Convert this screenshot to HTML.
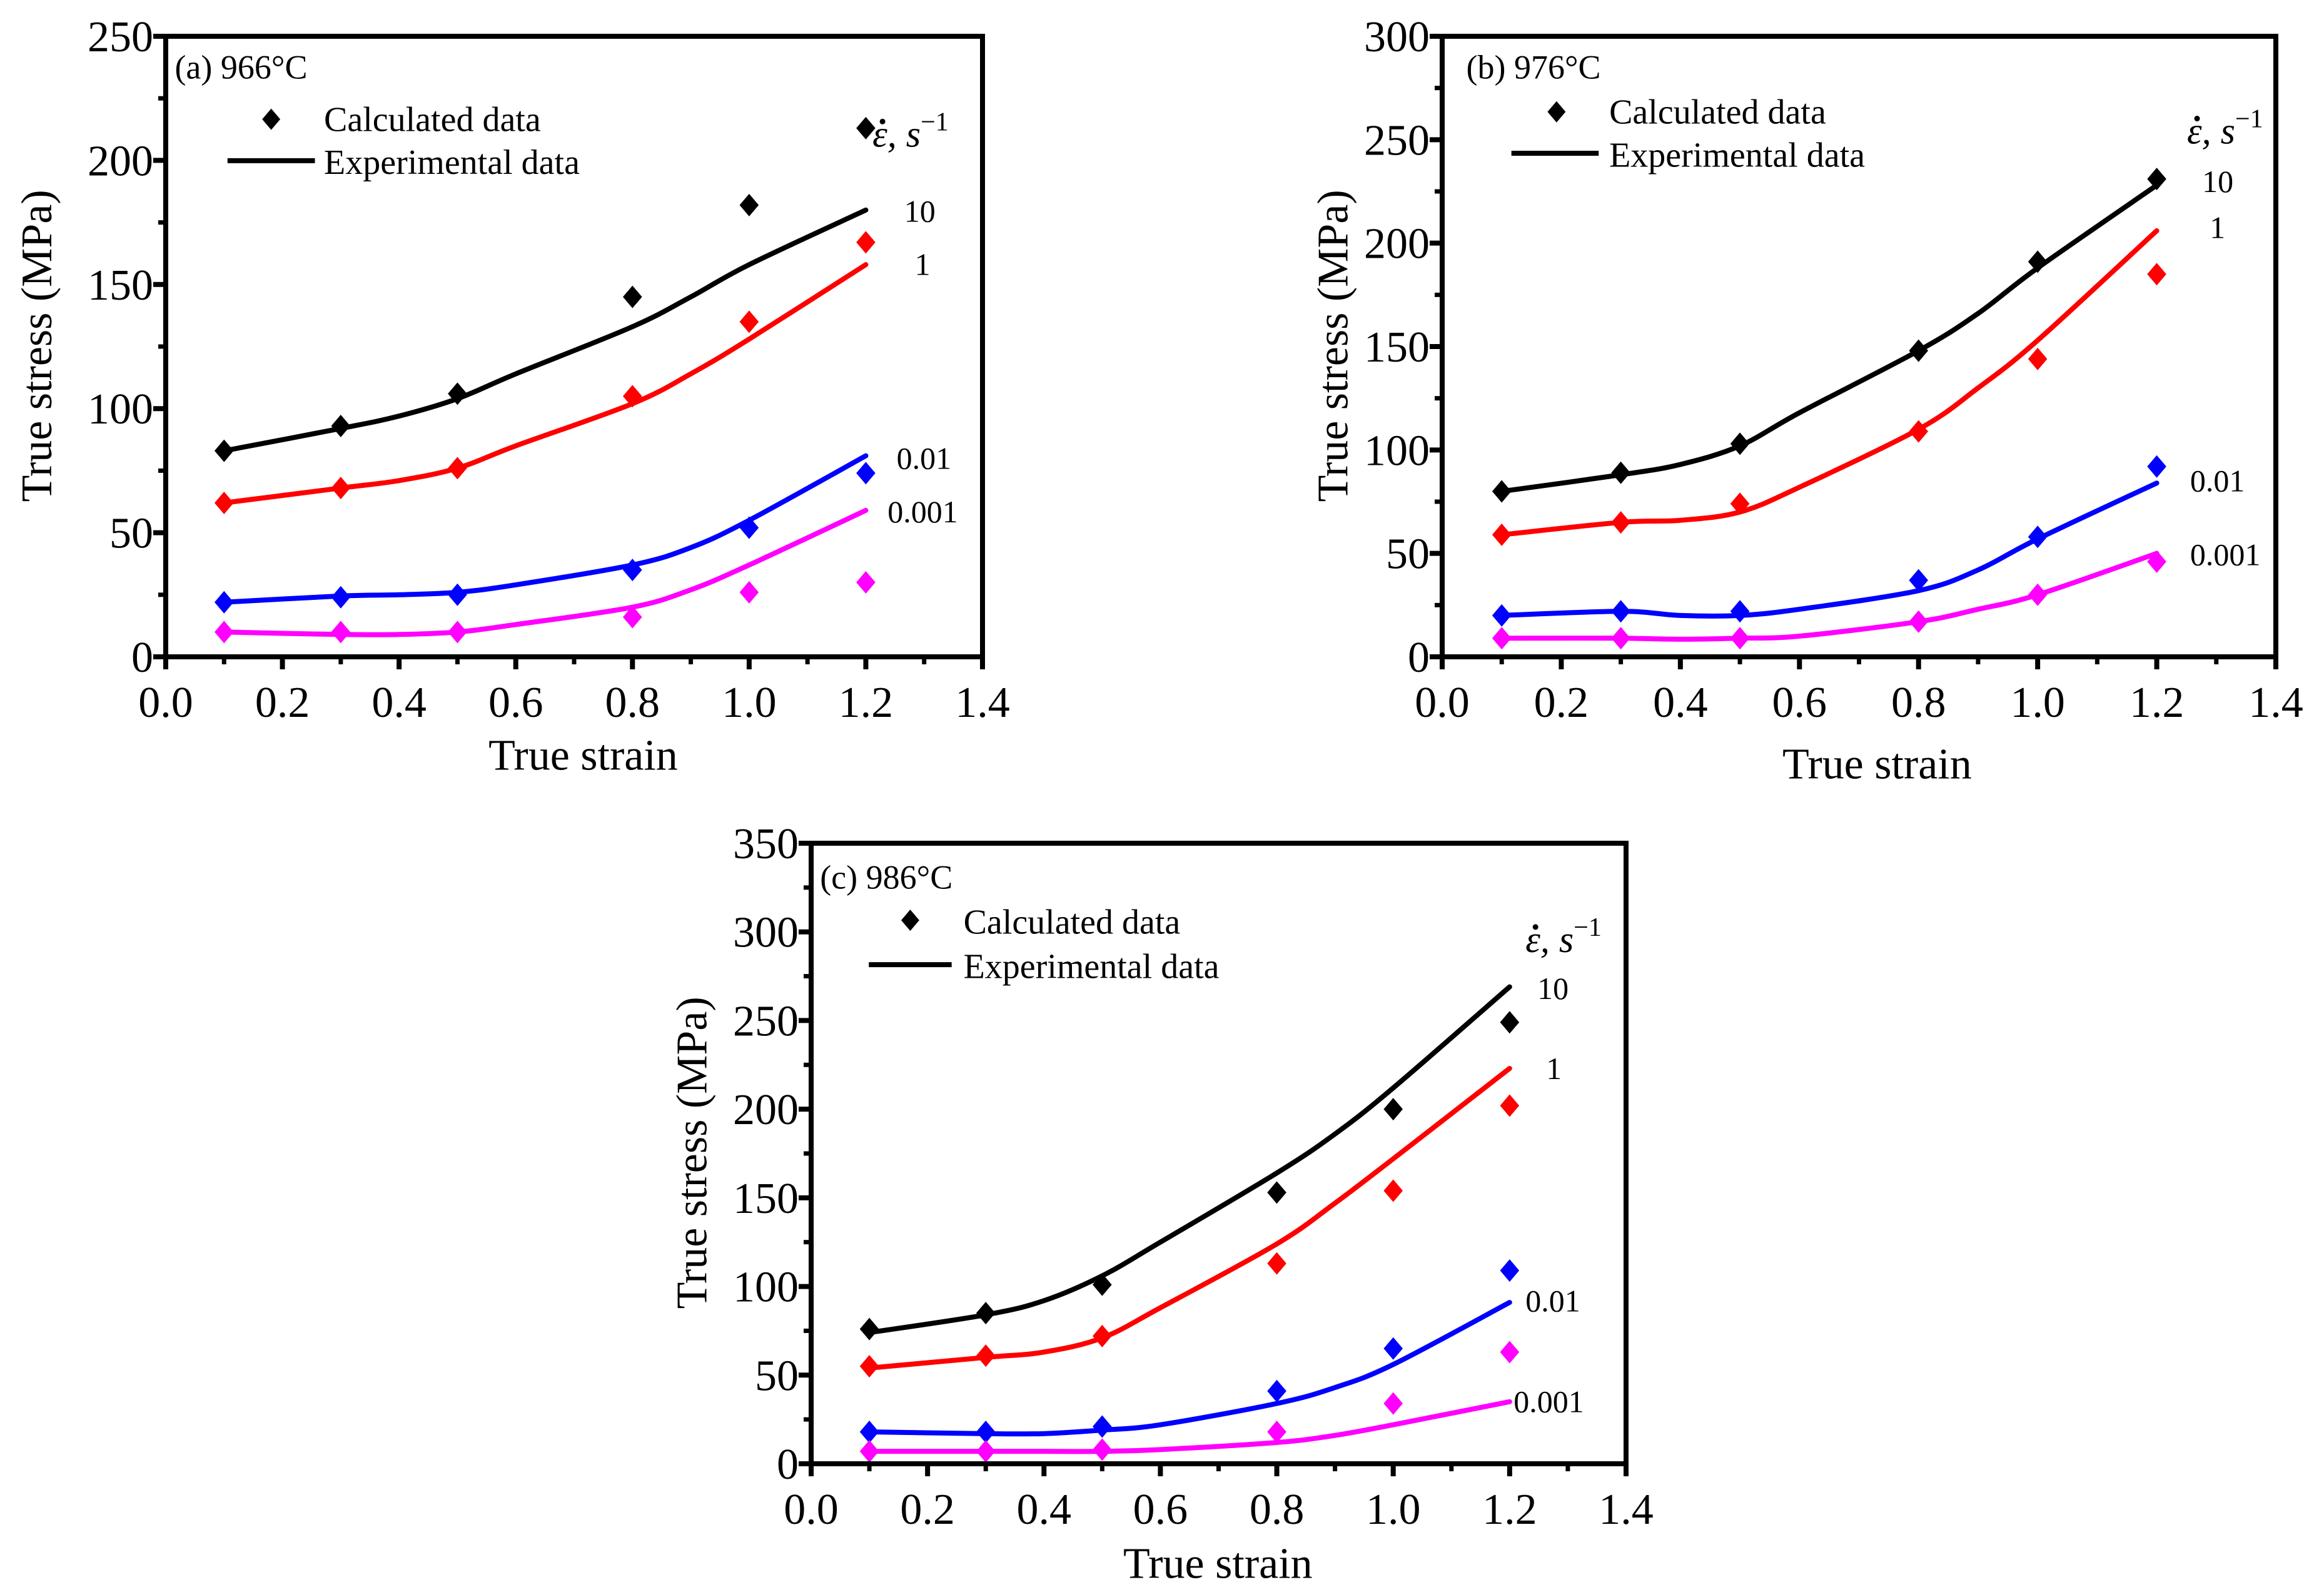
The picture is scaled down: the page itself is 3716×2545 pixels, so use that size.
<!DOCTYPE html>
<html><head><meta charset="utf-8"><style>
html,body{margin:0;padding:0;background:#fff;}
svg{display:block;font-family:"Liberation Serif","Times New Roman",serif;}
</style></head><body>
<svg id="fig" width="3716" height="2545" viewBox="0 0 3716 2545" xmlns="http://www.w3.org/2000/svg"></svg>
<script>
const strainCalc = [0.1, 0.3, 0.5, 0.8, 1.0, 1.2];
const strainExp = [0.1, 0.3, 0.4, 0.5, 0.6, 0.8, 0.9, 1.0, 1.2];
const rateNames = ["10", "1", "0.01", "0.001"];
const rateColors = ["#000000", "#ff0000", "#0000ff", "#ff00ff"];
const xTicks = [0.0, 0.2, 0.4, 0.6, 0.8, 1.0, 1.2, 1.4];
const xTickLabels = ["0.0", "0.2", "0.4", "0.6", "0.8", "1.0", "1.2", "1.4"];

const calcA = [[83,93,106,145,182,213],[62,68,76,105,135,167],[22,24,25,35,52,74],[10,10,10,16,26,30]];
const expA = [[83,92,97,104,114,133,145,158,180],[62,68,71,76,85,102,114,128,158],[22,24.5,25,26,29,37,44,55,81],[10,9,9,10,13,20,27,37,59]];
const calcB = [[80,89,103,148,191,231],[59,65,74,109,144,185],[20,22,22,37,58,92],[9,9,9,17,30,46]];
const expB = [[80,88,93,102,118,148,166,188,228],[59,65,66,70,82,110,130,153,206],[20,22,20,20,23,32,42,57,84],[9,9,8.5,9,10,17,23,30,50]];
const calcC = [[76,85,101,153,200,249],[55,61,72,113,154,202],[18,18,21,41,65,109],[7,7,8,18,34,63]];
const expC = [[74,84,92,106,125,164,186,212,269],[54,60,63,71,88,124,147,172,223],[18,17,17,19,22,34,43,56,91],[7,7,7,7,8,12,16,22,35]];
const yTicksA = [0,50,100,150,200,250];
const yTicksB = [0,50,100,150,200,250,300];
const yTicksC = [0,50,100,150,200,250,300,350];

const NS = "http://www.w3.org/2000/svg";
const svg = document.getElementById('fig');
function mk(tag, attrs, parent){const e=document.createElementNS(NS,tag);for(const k in attrs)e.setAttribute(k,attrs[k]);(parent||svg).appendChild(e);return e;}

const panels = [
 {id:'a', title:'(a) 966\u00B0C', box:[265,58,1571,1050], thumb:[111,24,653,443], ymax:250, yTicks:yTicksA, calc:calcA, exp:expA,
  label:[117,45], dia:[181,80], txt:[216], line:[152,210,108], lt:[80,109],
  rate:[[601,142],[608,178],[596,309],[590,345]], eps:[580,90], xt:[388,509], yt:[25,233]},
 {id:'b', title:'(b) 976\u00B0C', box:[2306,58,3639,1050], thumb:[966,24,1520,443], ymax:300, yTicks:yTicksB, calc:calcB, exp:expB,
  label:[982,45], dia:[1042,75], txt:[1077], line:[1012,1070,103], lt:[75,104],
  rate:[[1471,122],[1476,153],[1463,324],[1463,374]], eps:[1461,88], xt:[1255,515], yt:[893,233]},
 {id:'c', title:'(c) 986\u00B0C', box:[1297,1348,2600,2340], thumb:[547,568,1098,987], ymax:350, yTicks:yTicksC, calc:calcC, exp:expC,
  label:[553,591], dia:[614,620], txt:[650], line:[586,642,650], lt:[621,651],
  rate:[[1038,666],[1044,720],[1030,877],[1022,945]], eps:[1030,633], xt:[822,1054], yt:[466,777]}
];

function smoothPath(pts){
  let d = `M${pts[0][0]},${pts[0][1]}`;
  for(let i=0;i<pts.length-1;i++){
    const p0=pts[Math.max(0,i-1)], p1=pts[i], p2=pts[i+1], p3=pts[Math.min(pts.length-1,i+2)];
    const c1=[p1[0]+(p2[0]-p0[0])/6, p1[1]+(p2[1]-p0[1])/6];
    const c2=[p2[0]-(p3[0]-p1[0])/6, p2[1]-(p3[1]-p1[1])/6];
    d += ` C${c1[0]},${c1[1]} ${c2[0]},${c2[1]} ${p2[0]},${p2[1]}`;
  }
  return d;
}

panels.forEach(P=>{
  const [L,T,R,B]=P.box, [tl,tt,tr,tb]=P.thumb;
  const X = v => L + (v/1.4)*(R-L);
  const Y = v => B - (v/P.ymax)*(B-T);
  const TX = x => L + (x-tl)*(R-L)/(tr-tl);
  const TY = y => T + (y-tt)*(B-T)/(tb-tt);
  const g = mk('g',{});
  
  

  P.exp.forEach((s,i)=>{
    const pts = s.map((v,j)=>[X(strainExp[j]),Y(v)]);
    const p = mk('path',{d:smoothPath(pts),fill:'none',stroke:rateColors[i],'stroke-width':8,'stroke-linecap':'round','stroke-linejoin':'round'},g);
    
    
  });
  P.calc.forEach((s,i)=>{
    s.forEach((v,j)=>{
      const cx=X(strainCalc[j]), cy=Y(v), r=18;
      const d = mk('polygon',{points:`${cx},${cy-r} ${cx+r*0.85},${cy} ${cx},${cy+r} ${cx-r*0.85},${cy}`,fill:rateColors[i]},g);
      
      
    });
  });
  const box = mk('rect',{x:L,y:T,width:R-L,height:B-T,fill:'none',stroke:'#000','stroke-width':8},g);
  
  
  xTicks.forEach((v,k)=>{
    const x=X(v);
    mk('line',{x1:x,y1:B,x2:x,y2:B+20,stroke:'#000','stroke-width':8},g);
    const t = mk('text',{x:x,y:B+96,'font-size':70,'text-anchor':'middle'},g);
    t.textContent = xTickLabels[k];
    
    
    if(k<xTicks.length-1){ const xm=X(v+0.1); mk('line',{x1:xm,y1:B,x2:xm,y2:B+12,stroke:'#000','stroke-width':7},g); }
  });
  P.yTicks.forEach((v,k)=>{
    const y=Y(v);
    mk('line',{x1:L-20,y1:y,x2:L,y2:y,stroke:'#000','stroke-width':8},g);
    const t = mk('text',{x:L-20,y:y+24,'font-size':70,'text-anchor':'end'},g);
    t.textContent = String(v);
    
    
    if(k<P.yTicks.length-1){ const ym=Y(v+25); mk('line',{x1:L-12,y1:ym,x2:L,y2:ym,stroke:'#000','stroke-width':7},g); }
  });
  const xt = mk('text',{x:TX(P.xt[0]),y:TY(P.xt[1])+24,'font-size':70,'text-anchor':'middle'},g);
  xt.textContent='True strain';
  
  
  const yx=TX(P.yt[0])+24, yy=TY(P.yt[1]);
  const yt = mk('text',{x:yx,y:yy,'font-size':70,'text-anchor':'middle',transform:`rotate(-90 ${yx} ${yy})`},g);
  yt.textContent='True stress (MPa)';
  
  
  const pl = mk('text',{x:TX(P.label[0]),y:TY(P.label[1])+18,'font-size':54},g);
  pl.textContent=P.title;
  
  
  const dx=TX(P.dia[0]), dy=TY(P.dia[1]), r=17;
  const ld = mk('polygon',{points:`${dx},${dy-r} ${dx+r*0.85},${dy} ${dx},${dy+r} ${dx-r*0.85},${dy}`,fill:'#000'},g);
  
  
  const lt1 = mk('text',{x:TX(P.txt[0]),y:TY(P.lt[0])+19,'font-size':56},g);
  lt1.textContent='Calculated data';
  
  
  const ll = mk('line',{x1:TX(P.line[0]),y1:TY(P.line[2]),x2:TX(P.line[1]),y2:TY(P.line[2]),stroke:'#000','stroke-width':8},g);
  
  
  const lt2 = mk('text',{x:TX(P.txt[0]),y:TY(P.lt[1])+19,'font-size':56},g);
  lt2.textContent='Experimental data';
  
  
  P.rate.forEach((p,i)=>{
    const t = mk('text',{x:TX(p[0]),y:TY(p[1])+17,'font-size':50,'text-anchor':'start'},g);
    t.textContent=rateNames[i];
    
    
  });
  const ex=TX(P.eps[0]), ey=TY(P.eps[1])+20;
  const e = mk('text',{x:ex,y:ey,'font-size':60,'font-style':'italic'},g);
  e.innerHTML='\u03B5, s<tspan dy="-26" font-size="42" font-style="normal">\u22121</tspan>';
  
  
  const dot = mk('circle',{cx:ex+16,cy:ey-40,r:4.5,fill:'#000'},g);
  
  
});
</script>
</body></html>
